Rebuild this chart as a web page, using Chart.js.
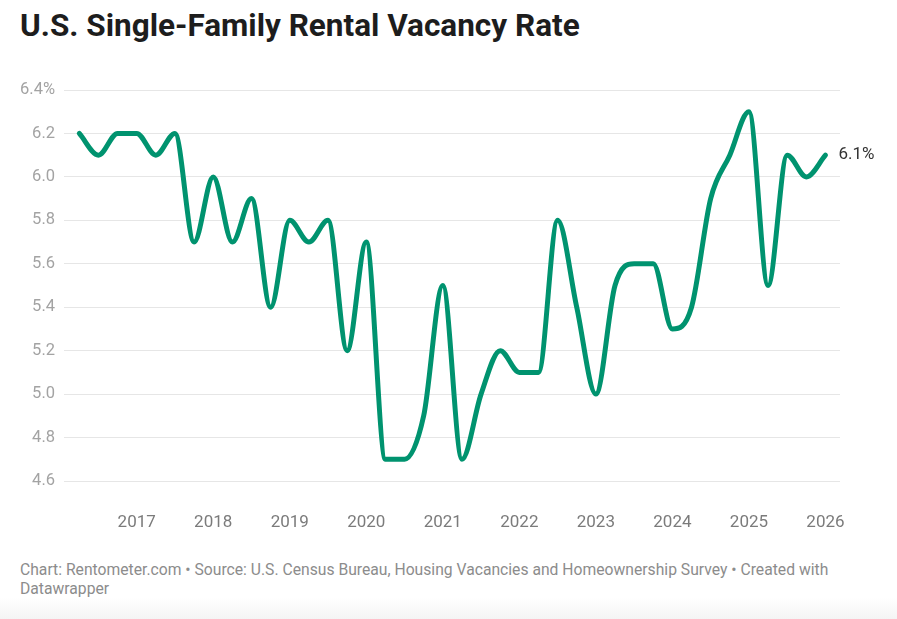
<!DOCTYPE html>
<html>
<head>
<meta charset="utf-8">
<script src="https://cdn.jsdelivr.net/npm/chart.js@4"></script>
<style>
  html, body { margin: 0; padding: 0; background: #fff; }
  body { width: 897px; height: 619px; position: relative; overflow: hidden; font-family: Roboto, "Noto Sans", sans-serif; }
  #title { position: absolute; left: 20px; top: 10px; font-size: 31.5px; line-height: 1; font-weight: 700; color: #1d1d1d; white-space: nowrap; }
  #chartBox { position: absolute; left: 0; top: 60px; width: 897px; height: 480px; }
  #footer { position: absolute; left: 20px; top: 560px; font-size: 15.7px; line-height: 19px; color: #8c8c8c; white-space: nowrap; }
  #fade { position: absolute; left: 0; right: 0; bottom: 0; height: 22px; background: linear-gradient(#fff, #f4f4f4); }
</style>
</head>
<body>
<div id="title">U.S. Single-Family Rental Vacancy Rate</div>
<div id="chartBox"><canvas id="chart"></canvas></div>
<div id="footer">Chart: Rentometer.com • Source: U.S. Census Bureau, Housing Vacancies and Homeownership Survey • Created with<br>Datawrapper</div>
<div id="fade"></div>
<script>
// quarterly data, 2016 Q1 .. 2025 Q4 (plotted at quarter end)
const quarters = [
  '2016 Q1', '2016 Q2', '2016 Q3', '2016 Q4',
  '2017 Q1', '2017 Q2', '2017 Q3', '2017 Q4',
  '2018 Q1', '2018 Q2', '2018 Q3', '2018 Q4',
  '2019 Q1', '2019 Q2', '2019 Q3', '2019 Q4',
  '2020 Q1', '2020 Q2', '2020 Q3', '2020 Q4',
  '2021 Q1', '2021 Q2', '2021 Q3', '2021 Q4',
  '2022 Q1', '2022 Q2', '2022 Q3', '2022 Q4',
  '2023 Q1', '2023 Q2', '2023 Q3', '2023 Q4',
  '2024 Q1', '2024 Q2', '2024 Q3', '2024 Q4',
  '2025 Q1', '2025 Q2', '2025 Q3', '2025 Q4'
];
const vacancyRate = [
  6.2, 6.1, 6.2, 6.2,
  6.1, 6.2, 5.7, 6.0,
  5.7, 5.9, 5.4, 5.8,
  5.7, 5.8, 5.2, 5.7,
  4.7, 4.7, 4.9, 5.5,
  4.7, 5.0, 5.2, 5.1,
  5.1, 5.8, 5.4, 5.0,
  5.5, 5.6, 5.6, 5.3,
  5.4, 5.9, 6.1, 6.3,
  5.5, 6.1, 6.0, 6.1
];
const yearTicks = [2017, 2018, 2019, 2020, 2021, 2022, 2023, 2024, 2025, 2026];
const rateTicks = [4.6, 4.8, 5.0, 5.2, 5.4, 5.6, 5.8, 6.0, 6.2, 6.4];

const lineColor = '#00936f';

// "2016 Q1" -> end of quarter as a decimal year
function quarterToX(q) {
  const parts = q.split(' Q');
  return parseInt(parts[0], 10) + parseInt(parts[1], 10) / 4;
}

const points = quarters.map((q, i) => ({ x: quarterToX(q), y: vacancyRate[i] }));

// draws the last value next to the end of the line
const endLabel = {
  id: 'endLabel',
  afterDatasetsDraw(chart) {
    const meta = chart.getDatasetMeta(0);
    const last = meta.data[meta.data.length - 1];
    const ctx = chart.ctx;
    ctx.save();
    ctx.font = '17px Roboto, "Noto Sans", sans-serif';
    ctx.fillStyle = '#333333';
    ctx.textAlign = 'left';
    ctx.textBaseline = 'middle';
    ctx.fillText(vacancyRate[vacancyRate.length - 1].toFixed(1) + '%', last.x + 13, last.y);
    ctx.restore();
  }
};

new Chart(document.getElementById('chart'), {
  type: 'line',
  data: {
    datasets: [{
      data: points,
      borderColor: lineColor,
      borderWidth: 5,
      pointRadius: 0,
      pointHoverRadius: 0,
      cubicInterpolationMode: 'monotone',
      borderCapStyle: 'round',
      borderJoinStyle: 'round',
      fill: false
    }]
  },
  options: {
    responsive: true,
    maintainAspectRatio: false,
    animation: false,
    layout: { padding: { left: 20, right: 57, top: 30, bottom: 0 } },
    plugins: {
      legend: { display: false },
      tooltip: { enabled: false }
    },
    scales: {
      x: {
        type: 'linear',
        min: 2016.05,
        max: 2026.19,
        border: { display: false },
        grid: { display: false, drawTicks: false },
        afterBuildTicks: (scale) => { scale.ticks = yearTicks.map(v => ({ value: v })); },
        afterFit: (scale) => { scale.height = 59; },
        ticks: {
          padding: 32,
          maxRotation: 0,
          autoSkip: false,
          color: '#7b7b7b',
          font: { family: 'Roboto', size: 17 },
          callback: (v) => String(v)
        }
      },
      y: {
        min: 4.6,
        max: 6.4,
        border: { display: false },
        grid: { color: '#e6e6e6', lineWidth: 1, drawTicks: false },
        afterBuildTicks: (scale) => { scale.ticks = rateTicks.map(v => ({ value: v })); },
        afterFit: (scale) => { scale.width = 44; },
        ticks: {
          padding: 9,
          color: '#a3a3a3',
          font: { family: 'Roboto', size: 16.5 },
          callback: (v) => v === 6.4 ? v.toFixed(1) + '%' : v.toFixed(1)
        }
      }
    }
  },
  plugins: [endLabel]
});
</script>
</body>
</html>
